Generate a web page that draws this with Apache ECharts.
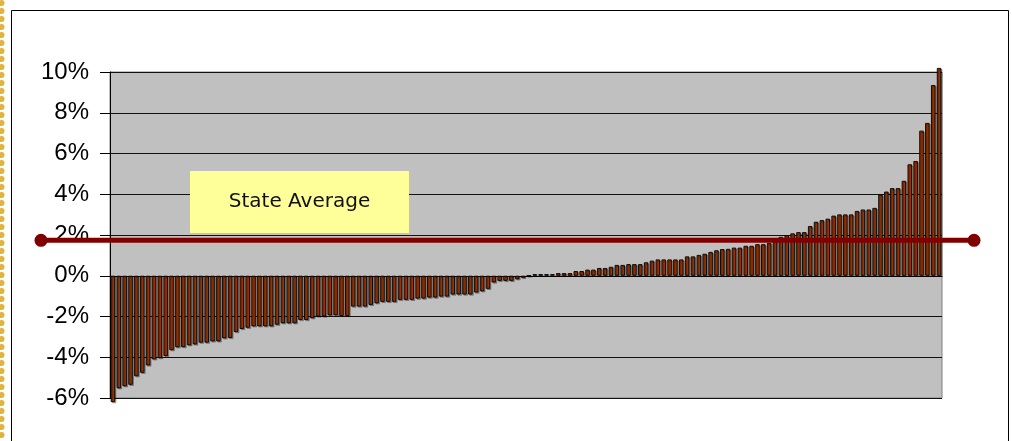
<!DOCTYPE html>
<html>
<head>
<meta charset="utf-8">
<script src="https://cdn.jsdelivr.net/npm/echarts@6/dist/echarts.min.js"></script>
<style>
  html, body { margin: 0; padding: 0; background: #fff; }
  #chart { width: 1012px; height: 441px; }
</style>
</head>
<body>
<div id="chart"></div>
<script>
// Annual change per district, sorted from lowest to highest (percent)
const changeValues = [
  -6.2, -5.52, -5.42, -5.35, -4.93, -4.76, -4.40, -4.10, -4.04, -3.94,
  -3.65, -3.51, -3.50, -3.41, -3.37, -3.28, -3.28, -3.22, -3.22, -3.07,
  -3.05, -2.76, -2.61, -2.55, -2.48, -2.48, -2.48, -2.48, -2.40, -2.33,
  -2.33, -2.33, -2.17, -2.17, -2.08, -2.00, -2.00, -1.94, -1.94, -1.97,
  -1.97, -1.51, -1.51, -1.51, -1.43, -1.35, -1.28, -1.28, -1.28, -1.18,
  -1.18, -1.18, -1.12, -1.12, -1.07, -1.07, -1.02, -1.02, -0.92, -0.92,
  -0.92, -0.92, -0.82, -0.76, -0.64, -0.33, -0.25, -0.25, -0.25, -0.17,
  -0.10, 0.00, 0.08, 0.08, 0.08, 0.08, 0.13, 0.13, 0.13, 0.23,
  0.23, 0.30, 0.30, 0.38, 0.38, 0.44, 0.53, 0.53, 0.57, 0.57,
  0.57, 0.66, 0.74, 0.80, 0.80, 0.80, 0.80, 0.80, 0.95, 0.95,
  1.02, 1.08, 1.17, 1.25, 1.31, 1.32, 1.38, 1.38, 1.47, 1.47,
  1.55, 1.55, 1.61, 1.70, 1.91, 1.99, 2.08, 2.14, 2.14, 2.44,
  2.65, 2.73, 2.80, 2.95, 3.01, 3.01, 3.01, 3.18, 3.25, 3.25,
  3.33, 3.99, 4.13, 4.30, 4.30, 4.66, 5.47, 5.63, 7.12, 7.50,
  9.36, 10.2
];

// District rank used as the (unlabelled) category axis
const districtRanks = changeValues.map((_, i) => String(i + 1));

// Statewide average change (percent)
const stateAverage = 1.74;
const stateAverageLabel = 'State Average';

// Value axis ticks
const yTicks = { min: -6, max: 10, interval: 2 };

const chart = echarts.init(document.getElementById('chart'), null, { renderer: 'canvas' });

chart.setOption({
  animation: false,
  backgroundColor: '#ffffff',
  grid: {
    left: 110, right: 70, top: 72, bottom: 43,
    show: true,
    backgroundColor: '#c0c0c0',
    borderColor: '#808080',
    borderWidth: 1
  },
  xAxis: {
    type: 'category',
    data: districtRanks,
    boundaryGap: true,
    axisLine: { onZero: true, lineStyle: { color: '#000', width: 1 } },
    axisTick: { show: false },
    axisLabel: { show: false },
    splitLine: { show: false }
  },
  yAxis: {
    type: 'value',
    min: yTicks.min,
    max: yTicks.max,
    interval: yTicks.interval,
    axisLine: { show: true, lineStyle: { color: '#000', width: 1 } },
    axisTick: { show: true, length: 10, lineStyle: { color: '#000' } },
    axisLabel: {
      formatter: '{value}%',
      fontFamily: 'Liberation Sans, Arial, sans-serif',
      fontSize: 24,
      color: '#000',
      margin: 21
    },
    splitLine: { show: true, lineStyle: { color: '#111', width: 1 } }
  },
  series: [{
    type: 'bar',
    data: changeValues,
    barWidth: '76%',
    clip: false,
    itemStyle: {
      color: '#9a3300',
      borderColor: '#000',
      borderWidth: 0.9,
      shadowColor: 'rgba(0,0,0,0.3)',
      shadowOffsetX: 1.2,
      shadowOffsetY: 1.2,
      shadowBlur: 0
    }
  }]
});

// Decorative dotted gold edge on the left of the page
const dots = [];
for (let y = 3; y < 441; y += 8) {
  dots.push({
    type: 'circle',
    shape: { cx: 1.5, cy: y, r: 3 },
    style: { fill: '#e3b23c' },
    z: 1
  });
}

// State average reference line, pinned to the value axis
const avgY = chart.convertToPixel({ yAxisIndex: 0 }, stateAverage);
const lineX0 = 41, lineX1 = 974;

chart.setOption({
  graphic: [
    // chart frame
    {
      type: 'rect',
      shape: { x: 11.5, y: 10.5, width: 997, height: 440 },
      style: { fill: null, stroke: '#000', lineWidth: 1 },
      z: 0, silent: true
    },
    ...dots,
    // label box
    {
      type: 'rect',
      shape: { x: 190, y: 171, width: 219, height: 62 },
      style: { fill: '#ffff99', stroke: null },
      z: 50
    },
    {
      type: 'text',
      x: 299.5, y: 202,
      style: {
        text: stateAverageLabel,
        fontFamily: 'DejaVu Sans, sans-serif',
        fontSize: 20,
        fill: '#111',
        align: 'center',
        verticalAlign: 'middle'
      },
      z: 51
    },
    // average line with end caps
    {
      type: 'line',
      shape: { x1: lineX0, y1: avgY, x2: lineX1, y2: avgY },
      style: { stroke: '#800000', lineWidth: 5 },
      z: 60
    },
    {
      type: 'circle',
      shape: { cx: lineX0, cy: avgY, r: 6.5 },
      style: { fill: '#800000' },
      z: 61
    },
    {
      type: 'circle',
      shape: { cx: lineX1, cy: avgY, r: 6.5 },
      style: { fill: '#800000' },
      z: 61
    }
  ]
});
</script>
</body>
</html>
